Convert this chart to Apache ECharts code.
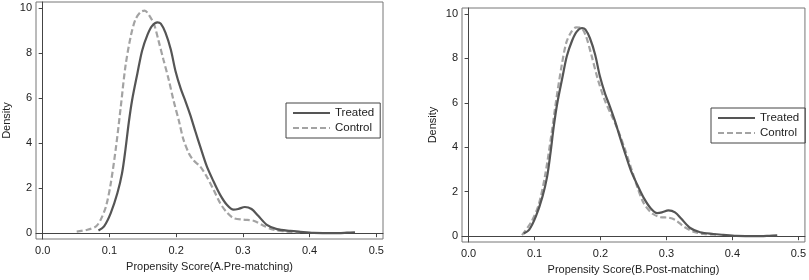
<!DOCTYPE html>
<html>
<head>
<meta charset="utf-8">
<script src="https://cdn.jsdelivr.net/npm/echarts@6/dist/echarts.min.js"></script>
<style>
    html, body { margin: 0; padding: 0; background: #fff; }
    #main { width: 809px; height: 280px; }
</style>
</head>
<body>
<div id="main"></div>
<script>
    // treated group (same in both panels)
    var treatedX = [0.0836, 0.092, 0.102, 0.112, 0.119, 0.124, 0.129, 0.134, 0.142, 0.149, 0.157, 0.164, 0.172, 0.177, 0.184, 0.192, 0.199, 0.207, 0.214, 0.221, 0.229, 0.236, 0.246, 0.256, 0.266, 0.276, 0.286, 0.293, 0.303, 0.313, 0.323, 0.336, 0.351, 0.371, 0.386, 0.406, 0.436, 0.456, 0.468];
    var treatedY = [0.12, 0.3, 0.89, 1.78, 2.67, 3.7, 4.9, 5.9, 7.1, 8.1, 8.8, 9.2, 9.36, 9.3, 8.9, 8.15, 7.2, 6.4, 5.85, 5.26, 4.5, 3.85, 2.96, 2.3, 1.7, 1.26, 1.04, 1.07, 1.16, 1.07, 0.77, 0.37, 0.18, 0.1, 0.06, 0.015, 0.0, 0.02, 0.04];

    // control group, before matching
    var controlPreX = [0.051, 0.067, 0.08, 0.087, 0.095, 0.102, 0.11, 0.117, 0.124, 0.132, 0.139, 0.147, 0.153, 0.159, 0.167, 0.174, 0.181, 0.189, 0.196, 0.204, 0.211, 0.219, 0.226, 0.236, 0.246, 0.256, 0.266, 0.276, 0.286, 0.301, 0.316, 0.331, 0.346, 0.366, 0.386];
    var controlPreY = [0.07, 0.15, 0.3, 0.6, 1.2, 2.2, 3.85, 5.6, 7.4, 8.74, 9.48, 9.82, 9.88, 9.7, 9.26, 8.5, 7.7, 6.8, 5.9, 5.0, 4.15, 3.55, 3.23, 2.96, 2.5, 1.93, 1.33, 0.92, 0.67, 0.6, 0.55, 0.33, 0.15, 0.07, 0.04];

    // control group, after matching
    var controlPostX = [0.081, 0.095, 0.106, 0.116, 0.126, 0.133, 0.141, 0.148, 0.156, 0.163, 0.171, 0.178, 0.186, 0.196, 0.206, 0.216, 0.226, 0.236, 0.246, 0.256, 0.266, 0.279, 0.291, 0.304, 0.314, 0.327, 0.342, 0.357, 0.377];
    var controlPostY = [0.05, 0.64, 1.39, 2.73, 4.66, 6.15, 7.65, 8.69, 9.2, 9.39, 9.36, 8.99, 8.17, 7.05, 6.15, 5.48, 4.81, 4.0, 3.1, 2.2, 1.46, 1.01, 0.86, 0.83, 0.72, 0.42, 0.19, 0.1, 0.07];

    var xTicks = [0, 0.1, 0.2, 0.3, 0.4, 0.5];
    var yTicks = [0, 2, 4, 6, 8, 10];
    var xNames = ['Propensity Score(A.Pre-matching)', 'Propensity Score(B.Post-matching)'];
    var seriesNames = ['Treated', 'Control'];

    function zip(xs, ys) {
        var out = [];
        for (var i = 0; i < xs.length; i++) out.push([xs[i], ys[i]]);
        return out;
    }

    var font = 'Liberation Sans, Arial, sans-serif';
    var textColor = '#222';

    function xAxis(idx) {
        return {
            type: 'value', gridIndex: idx, min: -0.01, max: 0.51,
            name: xNames[idx], nameLocation: 'middle', nameGap: 22,
            nameTextStyle: {fontSize: 11, color: textColor, fontFamily: font},
            splitLine: {show: false},
            axisLine: {show: true, lineStyle: {color: '#444', width: 1}},
            axisTick: {show: true, length: 4, customValues: xTicks, lineStyle: {color: '#444'}},
            axisLabel: {
                customValues: xTicks, margin: 6, fontSize: 11, color: textColor, fontFamily: font,
                formatter: function (v) { return v.toFixed(1); }
            }
        };
    }

    function yAxis(idx) {
        return {
            type: 'value', gridIndex: idx, min: -0.26, max: 10.26,
            name: 'Density', nameLocation: 'middle', nameGap: 24,
            nameTextStyle: {fontSize: 11, color: textColor, fontFamily: font},
            splitLine: {show: false},
            axisLine: {show: true, lineStyle: {color: '#444', width: 1}},
            axisTick: {show: true, length: 4, customValues: yTicks, lineStyle: {color: '#444'}},
            axisLabel: {customValues: yTicks, margin: 4, fontSize: 11, color: textColor, fontFamily: font}
        };
    }

    var solid = {color: '#555', width: 2.2, type: 'solid'};
    var dashed = {color: '#a3a3a3', width: 2.2, type: [6, 3]};

    function line(name, idx, data, style) {
        return {
            name: name, type: 'line', xAxisIndex: idx, yAxisIndex: idx,
            data: data, smooth: 0.3, symbol: 'none', showSymbol: false,
            color: style.color, lineStyle: style, z: name === 'Treated' ? 3 : 2
        };
    }

    function legend(left, top) {
        return {
            orient: 'vertical', left: left, top: top, data: seriesNames,
            itemWidth: 37, itemHeight: 12, itemGap: 3,
            padding: [4, 6, 4, 6], borderColor: '#444', borderWidth: 1,
            selectedMode: false,
            itemStyle: {opacity: 0},
            textStyle: {fontSize: 11.5, color: textColor, fontFamily: font}
        };
    }

    var chart = echarts.init(document.getElementById('main'));
    chart.setOption({
        animation: false,
        backgroundColor: '#fff',
        grid: [
            {left: 36, right: 426, top: 2, bottom: 41, show: true, borderColor: '#777', borderWidth: 1},
            {left: 462, right: 2, top: 8, bottom: 37, show: true, borderColor: '#777', borderWidth: 1}
        ],
        xAxis: [xAxis(0), xAxis(1)],
        yAxis: [yAxis(0), yAxis(1)],
        legend: [legend(286, 103), legend(711, 108)],
        series: [
            line('Control', 0, zip(controlPreX, controlPreY), dashed),
            line('Treated', 0, zip(treatedX, treatedY), solid),
            line('Control', 1, zip(controlPostX, controlPostY), dashed),
            line('Treated', 1, zip(treatedX, treatedY), solid)
        ]
    });
</script>
</body>
</html>
